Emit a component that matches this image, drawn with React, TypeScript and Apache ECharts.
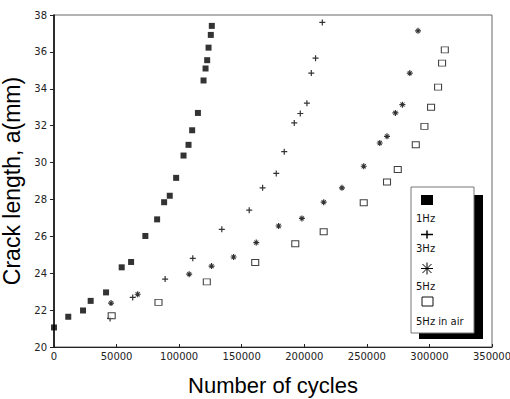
import React, { useEffect, useRef } from "react";
import * as echarts from "echarts";

const xTickLabels = ["0", "50000", "100000", "150000", "200000", "250000", "300000", "350000"];
const yTickLabels = ["20", "22", "24", "26", "28", "30", "32", "34", "36", "38"];

const hz1Cycles = [0, 11400, 23200, 29300, 41600, 54100, 61600, 73000, 82400, 88000, 92500, 97600, 103500, 107500, 110400, 115000, 119500, 121100, 122400, 123500, 125300, 126100];
const hz1Crack = [21.06, 21.64, 21.98, 22.5, 22.96, 24.32, 24.61, 26.02, 26.92, 27.85, 28.2, 29.17, 30.38, 30.96, 31.75, 32.69, 34.45, 35.1, 35.55, 36.23, 36.92, 37.41];

const hz3Cycles = [44800, 62900, 88800, 110900, 134100, 156000, 166700, 177600, 184000, 192000, 196800, 202100, 205600, 209000, 214400];
const hz3Crack = [21.55, 22.69, 23.68, 24.81, 26.38, 27.42, 28.63, 29.41, 30.59, 32.15, 32.66, 33.22, 34.85, 35.66, 37.6];

const hz5Cycles = [45600, 66900, 108000, 125900, 143500, 161600, 179500, 198100, 215500, 230100, 247500, 260300, 266100, 272800, 278400, 284300, 290900];
const hz5Crack = [22.38, 22.86, 23.95, 24.39, 24.88, 25.66, 26.56, 26.97, 27.85, 28.63, 29.8, 31.06, 31.42, 32.69, 33.14, 34.85, 37.14];

const airCycles = [46100, 83500, 122100, 160800, 192800, 215500, 247500, 266100, 274700, 289100, 296000, 301300, 306900, 310100, 312300];
const airCrack = [21.69, 22.42, 23.53, 24.58, 25.6, 26.25, 27.82, 28.95, 29.62, 30.97, 31.96, 33.0, 34.09, 35.39, 36.11];

const legendLabels = ["1Hz", "3Hz", "5Hz", "5Hz in air"];

const zip = (xs: number[], ys: number[]) => xs.map((x, i) => [x, ys[i]]);

const PLUS = "path://M4,0H6V4H10V6H6V10H4V6H0V4H4Z";
const STAR = "path://M0,4H10V6H0Z M4,0H6V10H4Z M1,2L2,1L9,8L8,9Z M8,1L9,2L2,9L1,8Z";

export default function App() {
  const ref = useRef<HTMLDivElement>(null);
  useEffect(() => {
    if (!ref.current) return;
    const chart = echarts.init(ref.current, null, { renderer: "svg" });
    const tickFont = { fontFamily: "DejaVu Sans", fontSize: 10, color: "#222" };
    const lgFont = { fontFamily: "DejaVu Sans", fontSize: 10, fill: "#111" };
    chart.setOption({
      animation: false,
      backgroundColor: "#fff",
      grid: {
        left: 54, right: 18, top: 15, bottom: 52,
        containLabel: false, outerBoundsMode: "none",
        show: true, borderColor: "#666", borderWidth: 1,
      },
      xAxis: {
        type: "value",
        min: 0,
        max: 350000,
        interval: 50000,
        name: "Number of cycles",
        nameLocation: "middle",
        nameGap: 27,
        nameTextStyle: { fontFamily: "Liberation Sans", fontSize: 22, color: "#000" },
        axisLine: { lineStyle: { color: "#222", width: 1 } },
        axisTick: { inside: true, length: 3, lineStyle: { color: "#222" } },
        axisLabel: { ...tickFont, margin: 4, formatter: (v: number) => xTickLabels[Math.round(v / 50000)] ?? String(v) },
        splitLine: { show: false },
      },
      yAxis: {
        type: "value",
        min: 20,
        max: 38,
        interval: 2,
        name: "Crack length, a(mm)",
        nameLocation: "middle",
        nameGap: 21,
        nameTextStyle: { fontFamily: "Liberation Sans", fontSize: 23, color: "#000" },
        axisLine: { lineStyle: { color: "#000", width: 1.5 } },
        axisTick: { inside: false, length: 4, lineStyle: { color: "#222" } },
        axisLabel: { ...tickFont, margin: 7, formatter: (v: number) => yTickLabels[Math.round((v - 20) / 2)] ?? String(v) },
        splitLine: { show: false },
      },
      series: [
        {
          name: legendLabels[0],
          type: "scatter",
          symbol: "rect",
          symbolSize: 6,
          itemStyle: { color: "#000" },
          data: zip(hz1Cycles, hz1Crack),
        },
        {
          name: legendLabels[1],
          type: "scatter",
          symbol: PLUS,
          symbolSize: 6,
          itemStyle: { color: "#000" },
          data: zip(hz3Cycles, hz3Crack),
        },
        {
          name: legendLabels[2],
          type: "scatter",
          symbol: STAR,
          symbolSize: 6,
          itemStyle: { color: "#000" },
          data: zip(hz5Cycles, hz5Crack),
        },
        {
          name: legendLabels[3],
          type: "scatter",
          symbol: "rect",
          symbolSize: [7, 6],
          itemStyle: { color: "#fff", borderColor: "#111", borderWidth: 1 },
          data: zip(airCycles, airCrack),
        },
      ],
      graphic: [
        { type: "rect", z: 100, shape: { x: 419, y: 195, width: 64, height: 144 }, style: { fill: "#000" } },
        { type: "rect", z: 101, shape: { x: 411, y: 187, width: 63, height: 146 }, style: { fill: "#fff", stroke: "#777", lineWidth: 1 } },
        { type: "rect", z: 102, shape: { x: 421, y: 195, width: 12, height: 10 }, style: { fill: "#000" } },
        { type: "text", z: 102, x: 416, y: 218, style: { ...lgFont, text: legendLabels[0], verticalAlign: "middle" } },
        { type: "line", z: 102, shape: { x1: 421, y1: 234.5, x2: 433, y2: 234.5 }, style: { stroke: "#000", lineWidth: 1.5 } },
        { type: "line", z: 102, shape: { x1: 427, y1: 230.5, x2: 427, y2: 238.5 }, style: { stroke: "#000", lineWidth: 1.5 } },
        { type: "text", z: 102, x: 416, y: 248, style: { ...lgFont, text: legendLabels[1], verticalAlign: "middle" } },
        { type: "line", z: 102, shape: { x1: 421, y1: 268.5, x2: 433, y2: 268.5 }, style: { stroke: "#000", lineWidth: 1 } },
        { type: "line", z: 102, shape: { x1: 427, y1: 262.5, x2: 427, y2: 274.5 }, style: { stroke: "#000", lineWidth: 1 } },
        { type: "line", z: 102, shape: { x1: 422.5, y1: 264, x2: 431.5, y2: 273 }, style: { stroke: "#000", lineWidth: 1 } },
        { type: "line", z: 102, shape: { x1: 431.5, y1: 264, x2: 422.5, y2: 273 }, style: { stroke: "#000", lineWidth: 1 } },
        { type: "text", z: 102, x: 416, y: 286, style: { ...lgFont, text: legendLabels[2], verticalAlign: "middle" } },
        { type: "rect", z: 102, shape: { x: 422, y: 297, width: 11, height: 9 }, style: { fill: "#fff", stroke: "#111", lineWidth: 1 } },
        { type: "text", z: 102, x: 416, y: 321, style: { ...lgFont, text: legendLabels[3], verticalAlign: "middle" } },
      ],
    });
    return () => chart.dispose();
  }, []);
  return (
    <div
      ref={ref}
      style={{ position: "absolute", left: 0, top: 0, width: 510, height: 399, background: "#fff" }}
    />
  );
}
